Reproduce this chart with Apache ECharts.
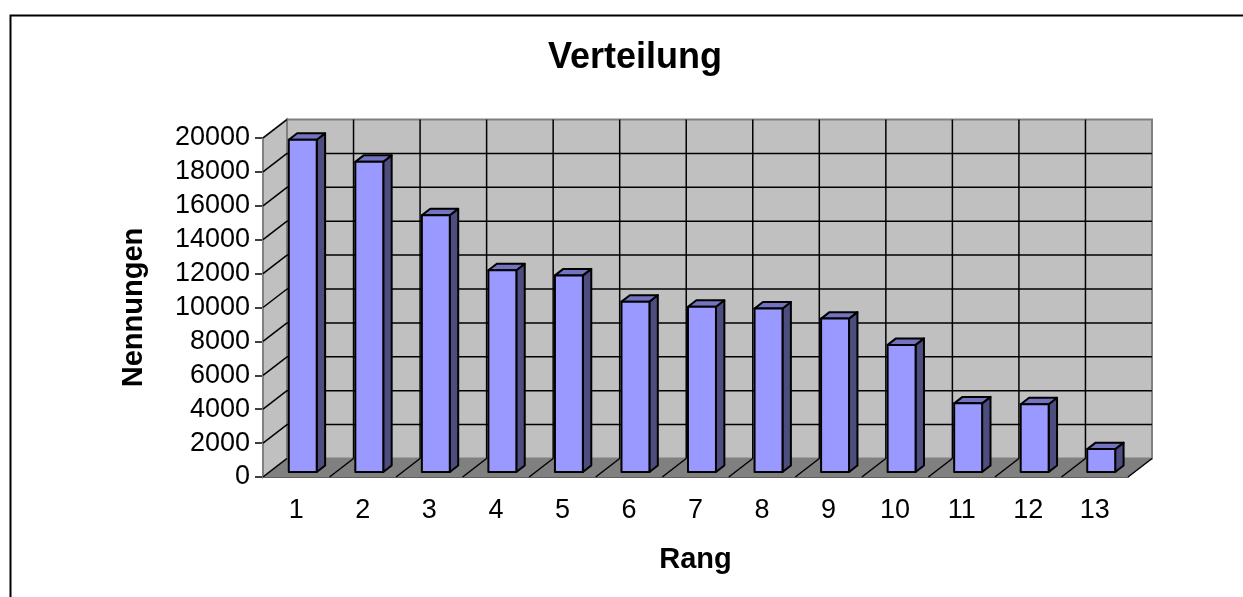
<!DOCTYPE html>
<html>
<head>
<meta charset="utf-8">
<script src="https://cdn.jsdelivr.net/npm/echarts@6/dist/echarts.min.js"></script>
<style>
  html, body { margin: 0; padding: 0; background: #fff; }
  #chart { width: 1243px; height: 597px; }
</style>
</head>
<body>
<div id="chart"></div>
<script>
const categories = ['1', '2', '3', '4', '5', '6', '7', '8', '9', '10', '11', '12', '13'];
const values = [19600, 18300, 15150, 11900, 11600, 10050, 9750, 9650, 9050, 7500, 4050, 4000, 1350];
const yTicks = [0, 2000, 4000, 6000, 8000, 10000, 12000, 14000, 16000, 18000, 20000];

// depth of the fake 3d box (back wall offset) and where the bars sit in it
const DX = 24, DY = -18.5;
const BAR_D0 = 0.27, BAR_D1 = 0.62;
const BAR_W = 0.42;
const FONT = "'Liberation Sans', Arial, sans-serif";

const line = (x1, y1, x2, y2, color) => ({
  type: 'line',
  shape: { x1, y1, x2, y2 },
  style: { stroke: color || '#000', lineWidth: 1.5 }
});

const renderWalls = (params, api) => {
  const cs = params.coordSys;
  const x0 = cs.x, x1 = cs.x + cs.width;
  const yTop = api.coord([0, yTicks[yTicks.length - 1]])[1];
  const yBase = api.coord([0, 0])[1];
  const band = api.size([1, 0])[0];
  const children = [];

  // back wall
  children.push({
    type: 'polygon',
    shape: { points: [[x0 + DX, yTop + DY], [x1 + DX, yTop + DY], [x1 + DX, yBase + DY], [x0 + DX, yBase + DY]] },
    style: { fill: '#c0c0c0', stroke: '#808080', lineWidth: 2 }
  });
  // left side wall
  children.push({
    type: 'polygon',
    shape: { points: [[x0, yTop], [x0 + DX, yTop + DY], [x0 + DX, yBase + DY], [x0, yBase]] },
    style: { fill: '#c0c0c0', stroke: '#808080', lineWidth: 2 }
  });
  // floor
  children.push({
    type: 'polygon',
    shape: { points: [[x0, yBase], [x0 + DX, yBase + DY], [x1 + DX, yBase + DY], [x1, yBase]] },
    style: { fill: '#808080', stroke: '#808080', lineWidth: 1 }
  });

  yTicks.forEach(v => {
    const y = api.coord([0, v])[1];
    if (v > 0 && v < yTicks[yTicks.length - 1]) {
      children.push(line(x0 + DX, y + DY, x1 + DX, y + DY));
    }
    if (v > 0) children.push(line(x0, y, x0 + DX, y + DY));
  });

  for (let i = 0; i <= categories.length; i++) {
    const x = x0 + i * band;
    if (i > 0 && i < categories.length) {
      children.push(line(x + DX, yTop + DY, x + DX, yBase + DY));
    }
    children.push(line(x, yBase, x + DX, yBase + DY));
  }

  return { type: 'group', children };
};

const renderBar = (params, api) => {
  const idx = api.value(0);
  const val = api.value(1);
  const top = api.coord([idx, val]);
  const base = api.coord([idx, 0]);
  const hw = api.size([1, 0])[0] * BAR_W / 2;
  const ox0 = DX * BAR_D0, oy0 = DY * BAR_D0;
  const ox1 = DX * BAR_D1, oy1 = DY * BAR_D1;
  const l = top[0] - hw, r = top[0] + hw;
  const t = top[1], b = base[1];
  const stroke = { stroke: '#000', lineWidth: 2, lineJoin: 'round' };

  return {
    type: 'group',
    children: [
      {
        type: 'polygon',
        shape: { points: [[r + ox0, t + oy0], [r + ox1, t + oy1], [r + ox1, b + oy1], [r + ox0, b + oy0]] },
        style: Object.assign({ fill: '#4d4d80' }, stroke)
      },
      {
        type: 'polygon',
        shape: { points: [[l + ox0, t + oy0], [l + ox1, t + oy1], [r + ox1, t + oy1], [r + ox0, t + oy0]] },
        style: Object.assign({ fill: '#7373c0' }, stroke)
      },
      {
        type: 'polygon',
        shape: { points: [[l + ox0, t + oy0], [r + ox0, t + oy0], [r + ox0, b + oy0], [l + ox0, b + oy0]] },
        style: Object.assign({ fill: '#9999ff' }, stroke)
      }
    ]
  };
};

const chart = echarts.init(document.getElementById('chart'));

chart.setOption({
  animation: false,
  backgroundColor: '#fff',
  title: {
    text: 'Verteilung',
    left: 630,
    top: 35,
    textAlign: 'center',
    textStyle: { fontFamily: FONT, fontSize: 36, fontWeight: 'bold', color: '#000' }
  },
  graphic: [{
    type: 'rect',
    left: 8,
    top: 13,
    shape: { width: 1400, height: 800 },
    style: { fill: 'none', stroke: '#000', lineWidth: 2 },
    silent: true
  }],
  grid: { left: 263, right: 115, top: 138, bottom: 120 },
  xAxis: {
    type: 'category',
    data: categories,
    name: 'Rang',
    nameLocation: 'middle',
    nameGap: 68,
    nameTextStyle: { fontFamily: FONT, fontSize: 29, fontWeight: 'bold', color: '#000' },
    axisLine: { lineStyle: { color: '#000', width: 1.5 } },
    axisTick: { length: 6, lineStyle: { color: '#000', width: 1.5 } },
    axisLabel: { fontFamily: FONT, fontSize: 27, color: '#000', margin: 20 },
    splitLine: { show: false }
  },
  yAxis: {
    type: 'value',
    min: 0,
    max: 20000,
    interval: 2000,
    name: 'Nennungen',
    nameLocation: 'middle',
    nameGap: 115,
    nameRotate: 90,
    nameTextStyle: { fontFamily: FONT, fontSize: 29, fontWeight: 'bold', color: '#000' },
    axisLine: { show: true, lineStyle: { color: '#808080', width: 2 } },
    axisTick: { show: true, length: 8, lineStyle: { color: '#000', width: 1.5 } },
    axisLabel: { fontFamily: FONT, fontSize: 27, color: '#000', margin: 13, formatter: v => String(v) },
    splitLine: { show: false }
  },
  series: [
    {
      type: 'custom',
      silent: true,
      z: 1,
      data: [[0, 0]],
      renderItem: renderWalls
    },
    {
      type: 'custom',
      z: 2,
      data: values.map((v, i) => [i, v]),
      renderItem: renderBar
    }
  ]
});
</script>
</body>
</html>
